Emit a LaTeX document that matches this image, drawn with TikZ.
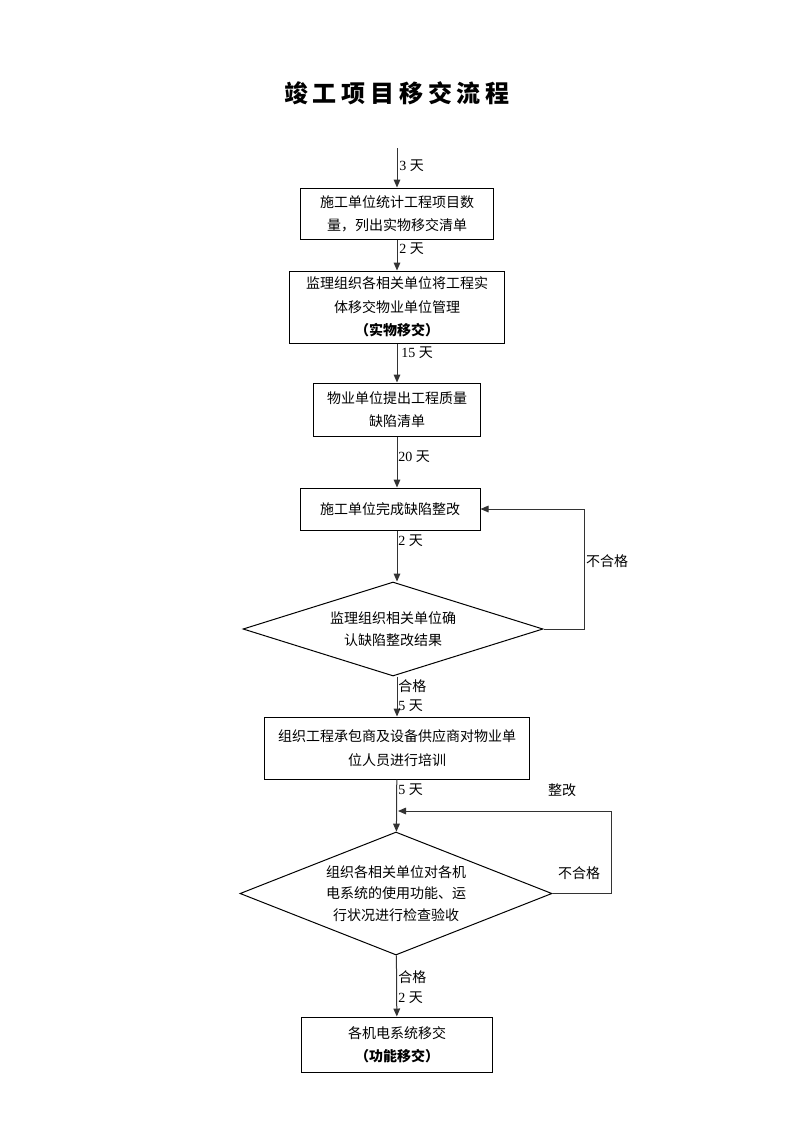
\documentclass[tikz,border=0pt]{standalone}
\usepackage{fontspec}
\setmainfont{Liberation Serif}
\newfontfamily\cjk{Noto Sans CJK SC}
\newfontfamily\cjktitle[LetterSpace=20]{Noto Sans CJK SC}
\usetikzlibrary{shapes.geometric}
\usetikzlibrary{arrows.meta}
\newcommand{\tian}[1]{#1 {\cjk 天}}
\tikzset{
	flowbox/.style={draw, line width=0.75pt, align=center, inner sep=0pt, font=\cjk\fontsize{10.5}{17.5}\selectfont},
	check/.style={diamond, draw, line width=0.75pt, align=center, inner sep=0pt, font=\cjk\fontsize{10.5}{16.25}\selectfont},
	daylabel/.style={anchor=west, inner sep=0pt, font=\fontsize{10.5}{12}\selectfont},
	note/.style={inner sep=0pt, font=\cjk\fontsize{10.5}{12}\selectfont},
	flow/.style={-{Triangle[length=6pt,width=5pt]}, line width=0.75pt, draw=black!80}
}
\begin{document}
\begin{tikzpicture}[x=0.75pt, y=-0.75pt]
			\useasboundingbox (0,0) rectangle (793,1122);
			\node at (397, 93) [font=\cjktitle\bfseries\fontsize{18}{20}\selectfont] (title) {竣工项目移交流程};
			\coordinate (start) at (397, 148);
			\node at (397, 213.5) [flowbox, minimum width=144.75pt, minimum height=38.25pt] (b1) {施工单位统计工程项目数\\量，列出实物移交清单};
			\node at (397, 307) [flowbox, minimum width=161.25pt, minimum height=54pt] (b2) {监理组织各相关单位将工程实\\体移交物业单位管理\\{\bfseries （实物移交）}};
			\node at (397, 409.5) [flowbox, minimum width=125.25pt, minimum height=39.75pt] (b3) {物业单位提出工程质量\\缺陷清单};
			\node at (390, 509) [flowbox, minimum width=135pt, minimum height=31.5pt] (b4) {施工单位完成缺陷整改};
			\node at (393, 629) [check, aspect=3.2, minimum width=225pt, minimum height=70.5pt] (d1) {监理组织相关单位确\\认缺陷整改结果};
			\node at (397, 748) [flowbox, minimum width=198.75pt, minimum height=46.5pt] (b5) {组织工程承包商及设备供应商对物业单\\位人员进行培训};
			\node at (396, 893.5) [check, aspect=2.54, minimum width=234pt, minimum height=92.25pt] (d2) {组织各相关单位对各机\\电系统的使用功能、运\\行状况进行检查验收};
			\node at (397, 1044.5) [flowbox, minimum width=143.25pt, minimum height=41.25pt] (b6) {各机电系统移交\\{\bfseries （功能移交）}};
			\coordinate (r1) at (584, 509);
			\coordinate (r2) at (611, 811);
			\coordinate (m2) at (398, 811);
			\draw [flow] (start) -- (start |- b1.north);
			\draw [flow] (b1) -- (b2);
			\draw [flow] (b2) -- (b3);
			\draw [flow] (b3) -- (b3 |- b4.north);
			\draw [flow] (b3 |- b4.south) -- (b3 |- d1.north);
			\draw [flow] (b5 |- d1.south) -- (b5);
			\draw [flow] (b5) -- (d2);
			\draw [flow] (d2) -- (b6);
			\draw [flow] (d1.east) -| (r1) -- (b4.east);
			\draw [flow] (d2.east) -| (r2) -- (m2);
			\node at (399, 166) [daylabel] (t1) {\tian{3}};
			\node at (399, 249) [daylabel] (t2) {\tian{2}};
			\node at (401, 353) [daylabel] (t3) {\tian{15}};
			\node at (398, 457) [daylabel] (t4) {\tian{20}};
			\node at (398, 541) [daylabel] (t5) {\tian{2}};
			\node at (398, 686) [daylabel, font=\cjk\fontsize{10.5}{12}\selectfont] (pass1) {合格};
			\node at (398, 706) [daylabel] (t6) {\tian{5}};
			\node at (398, 790) [daylabel] (t7) {\tian{5}};
			\node at (398, 977) [daylabel, font=\cjk\fontsize{10.5}{12}\selectfont] (pass2) {合格};
			\node at (398, 998) [daylabel] (t8) {\tian{2}};
			\node at (607, 561) [note] (fail1) {不合格};
			\node at (562, 790) [note] (fix2) {整改};
			\node at (579, 873) [note] (fail2) {不合格};
		\end{tikzpicture}
\end{document}
